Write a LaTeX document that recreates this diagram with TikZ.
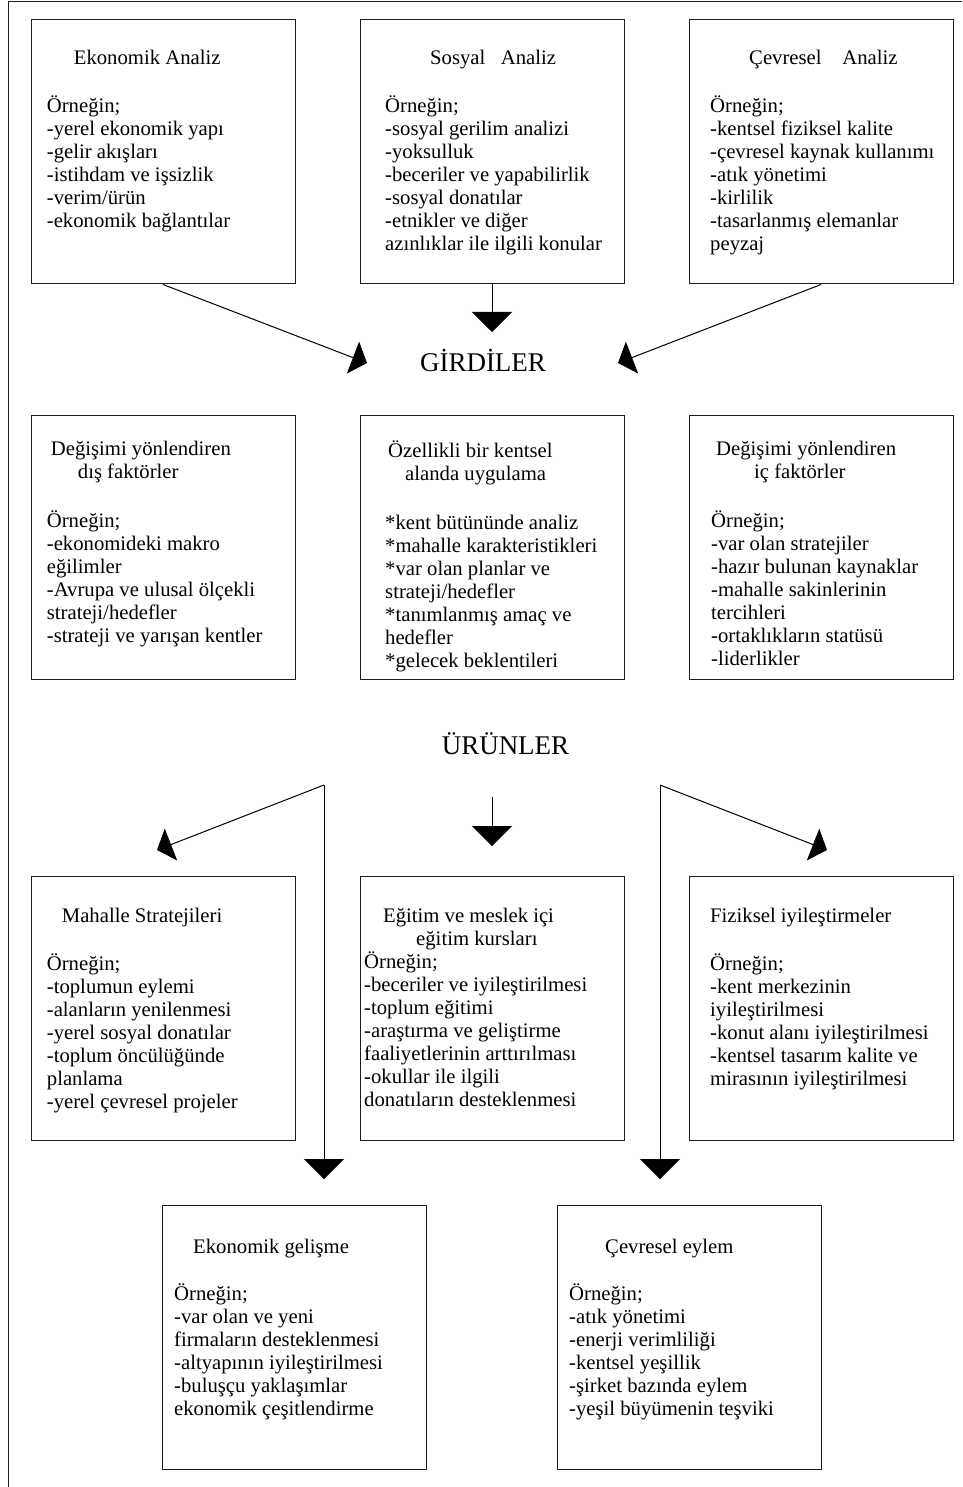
\documentclass[tikz,border=0pt]{standalone}
\usepackage{fontspec}
\setmainfont{Liberation Serif}
\usetikzlibrary{arrows.meta}
\definecolor{ink}{HTML}{1E1E1E}
\tikzset{
  kutu/.style={draw=ink,line width=1pt,minimum width=264pt,minimum height=264pt,inner sep=0pt},
  yazi/.style={anchor=north west,align=left,inner sep=0pt,font=\fontsize{20.7}{23}\selectfont,execute at begin node={\rule{0pt}{18pt}}},
  baslik/.style={font=\fontsize{27}{32}\selectfont,inner sep=0pt},
  ok/.style={-{Triangle[length=20pt,width=40pt]},line width=1pt,draw=black},
  capraz/.style={-{Triangle[length=15pt,width=34pt]},line width=1pt,draw=black},
  cerceve/.style={line width=1pt,draw=ink},
}

\begin{document}
\begin{tikzpicture}[x=1pt,y=-1pt]
  \useasboundingbox (0,0) rectangle (962,1487);
  \draw[cerceve] (8,1487) -- (8,1.5) -- (962,1.5);

  \node[kutu] (ekoA) at (163,152) {};
  \node[kutu] (sosA) at (492,152) {};
  \node[kutu] (cevA) at (821,152) {};
  \node[yazi] (ekoAy) at (46.7,49.5) {\hspace*{27pt}Ekonomik Analiz\\[25pt]
    Örneğin;\\-yerel ekonomik yapı\\-gelir akışları\\-istihdam ve işsizlik\\-verim/ürün\\-ekonomik bağlantılar};
  \node[yazi] (sosAy) at (385,49.5) {\hspace*{45pt}Sosyal\ \ \ Analiz\\[25pt]
    Örneğin;\\-sosyal gerilim analizi\\-yoksulluk\\-beceriler ve yapabilirlik\\-sosyal donatılar\\-etnikler ve diğer\\azınlıklar ile ilgili konular};
  \node[yazi] (cevAy) at (710,49.5) {\hspace*{39pt}Çevresel\ \ \ \ Analiz\\[25pt]
    Örneğin;\\-kentsel fiziksel kalite\\-çevresel kaynak kullanımı\\-atık yönetimi\\-kirlilik\\-tasarlanmış elemanlar\\peyzaj};

  \node[baslik] (girdi) at (483,360) {GİRDİLER};
  \coordinate (girdiSol) at (367,363);
  \coordinate (girdiOrta) at (492,332);
  \coordinate (girdiSag) at (618,363);
  \draw[capraz] (ekoA.south) -- (girdiSol);
  \draw[ok] (sosA.south) -- (girdiOrta);
  \draw[capraz] (cevA.south) -- (girdiSag);

  \node[kutu] (disF) at (163,547.5) {};
  \node[kutu] (uyg) at (492,547.5) {};
  \node[kutu] (icF) at (821,547.5) {};
  \node[yazi] (disFy) at (46.7,440.5) {\hspace*{4pt}Değişimi yönlendiren\\\hspace*{31pt}dış faktörler\\[26pt]
    Örneğin;\\-ekonomideki makro\\eğilimler\\-Avrupa ve ulusal ölçekli\\strateji/hedefler\\-strateji ve yarışan kentler};
  \node[yazi] (uygy) at (385,440.5) {\hspace*{3pt}Özellikli bir kentsel\\\hspace*{20pt}alanda uygulama\\[26pt]
    *kent bütününde analiz\\*mahalle karakteristikleri\\*var olan planlar ve\\strateji/hedefler\\*tanımlanmış amaç ve\\hedefler\\*gelecek beklentileri};
  \node[yazi] (icFy) at (711,440.5) {\hspace*{5pt}Değişimi yönlendiren\\\hspace*{43pt}iç faktörler\\[26pt]
    Örneğin;\\-var olan stratejiler\\-hazır bulunan kaynaklar\\-mahalle sakinlerinin\\tercihleri\\-ortaklıkların statüsü\\-liderlikler};

  \node[baslik] (urun) at (505.5,744) {ÜRÜNLER};
  \coordinate (solKose) at (324,785);
  \coordinate (solUc) at (157,850);
  \coordinate (solAlt) at (324,1179);
  \coordinate (ortaUst) at (492,797);
  \coordinate (ortaUc) at (492,846);
  \coordinate (sagKose) at (660,785);
  \coordinate (sagUc) at (827,850);
  \coordinate (sagAlt) at (660,1179);
  \draw[capraz] (solKose) -- (solUc);
  \draw[ok] (solKose) -- (solAlt);
  \draw[ok] (ortaUst) -- (ortaUc);
  \draw[capraz] (sagKose) -- (sagUc);
  \draw[ok] (sagKose) -- (sagAlt);

  \node[kutu] (mahS) at (163,1008.5) {};
  \node[kutu] (egit) at (492,1008.5) {};
  \node[kutu] (fizI) at (821,1008.5) {};
  \node[yazi] (mahSy) at (46.7,907.5) {\hspace*{15pt}Mahalle Stratejileri\\[25pt]
    Örneğin;\\-toplumun eylemi\\-alanların yenilenmesi\\-yerel sosyal donatılar\\-toplum öncülüğünde\\planlama\\-yerel çevresel projeler};
  \node[yazi] (egity) at (364,907.5) {\hspace*{19pt}Eğitim ve meslek içi\\\hspace*{52pt}eğitim kursları\\
    Örneğin;\\-beceriler ve iyileştirilmesi\\-toplum eğitimi\\-araştırma ve geliştirme\\faaliyetlerinin arttırılması\\-okullar ile ilgili\\donatıların desteklenmesi};
  \node[yazi] (fizIy) at (710,907.5) {Fiziksel iyileştirmeler\\[25pt]
    Örneğin;\\-kent merkezinin\\iyileştirilmesi\\-konut alanı iyileştirilmesi\\-kentsel tasarım kalite ve\\mirasının iyileştirilmesi};

  \node[kutu] (ekoG) at (294.5,1337.5) {};
  \node[kutu] (cevE) at (689.6,1337.5) {};
  \node[yazi] (ekoGy) at (174,1238.5) {\hspace*{19pt}Ekonomik gelişme\\[24pt]
    Örneğin;\\-var olan ve yeni\\firmaların desteklenmesi\\-altyapının iyileştirilmesi\\-buluşçu yaklaşımlar\\ekonomik çeşitlendirme};
  \node[yazi] (cevEy) at (569,1238.5) {\hspace*{36pt}Çevresel eylem\\[24pt]
    Örneğin;\\-atık yönetimi\\-enerji verimliliği\\-kentsel yeşillik\\-şirket bazında eylem\\-yeşil büyümenin teşviki};
\end{tikzpicture}
\end{document}
